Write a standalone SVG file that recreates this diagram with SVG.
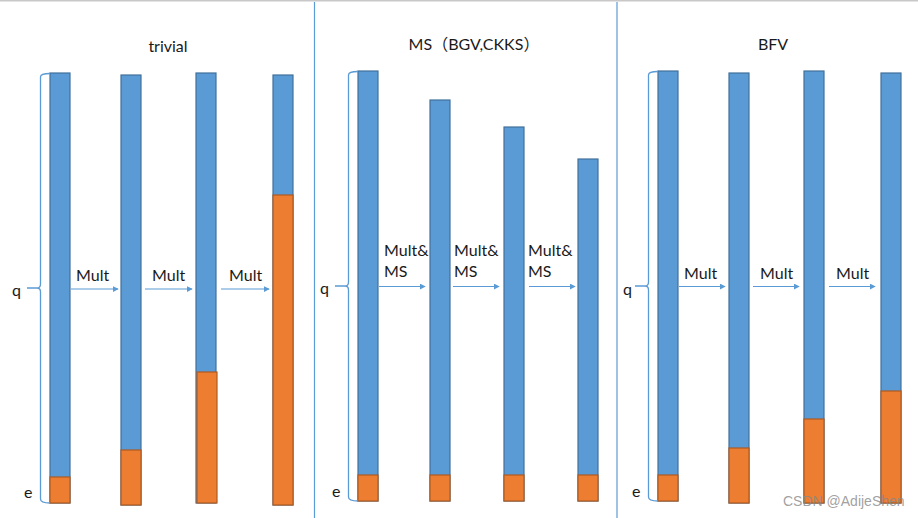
<svg xmlns="http://www.w3.org/2000/svg" width="918" height="518" viewBox="0 0 918 518">
<defs>
<style>
.b{fill:#5B9BD5;stroke:#41719C;stroke-width:1.2}
.o{fill:#ED7D31;stroke:#AE5A21;stroke-width:1.2}
.br{fill:none;stroke:#5B9BD5;stroke-width:1.3}
.ar{fill:none;stroke:#5B9BD5;stroke-width:1.2;marker-end:url(#ah)}
.dv{stroke:#5B9BD5;stroke-width:1.2}
text{font-family:Lato,"Noto Sans CJK SC",sans-serif;font-size:16px;fill:#1a1a1a}
.t{text-anchor:middle}
.wm{font-family:"Liberation Sans",sans-serif;font-size:14px;fill:#888;fill-opacity:0.8}
</style>
<marker id="ah" viewBox="0 0 8 8" refX="7" refY="4" markerWidth="6" markerHeight="6" orient="auto" markerUnits="userSpaceOnUse">
<path d="M0,0 L8,4 L0,8 z" fill="#5B9BD5"/>
</marker>
</defs>
<rect width="918" height="518" fill="#fff"/>
<line x1="0" y1="0.8" x2="918" y2="0.8" stroke="#c8c8c8" stroke-width="1.5"/>
<line class="dv" x1="314.5" y1="2" x2="314.5" y2="518"/>
<line class="dv" x1="617" y1="2" x2="617" y2="518"/>

<g id="panel-trivial">
<text class="t" x="168" y="52">trivial</text>
<g id="t-bar1"><rect class="b" x="50" y="73" width="20" height="430"/><rect class="o" x="50" y="477" width="20" height="26"/></g>
<g id="t-bar2"><rect class="b" x="121" y="75" width="20" height="430"/><rect class="o" x="121" y="450" width="20" height="55"/></g>
<g id="t-bar3"><rect class="b" x="196" y="73" width="20" height="430"/><rect class="o" x="197" y="372" width="20" height="131"/></g>
<g id="t-bar4"><rect class="b" x="273" y="75" width="20" height="430"/><rect class="o" x="273" y="195" width="20" height="310"/></g>
<g id="t-brace"><path class="br" d="M50,73.5 Q40.5,73.5 40.5,77 V284 Q40.5,288 37,288 H27 M37,288 Q40.5,288 40.5,292 V499 Q40.5,503 50,503"/>
<text x="12" y="296">q</text><text x="24" y="498">e</text></g>
</g>

<g id="panel-ms">
<text class="t" x="474" y="50">MS（BGV,CKKS）</text>
<g id="m-bar1"><rect class="b" x="358" y="71" width="20" height="430"/><rect class="o" x="358" y="475" width="20" height="26"/></g>
<g id="m-bar2"><rect class="b" x="430" y="100" width="20" height="401"/><rect class="o" x="430" y="475" width="20" height="26"/></g>
<g id="m-bar3"><rect class="b" x="504" y="127" width="20" height="374"/><rect class="o" x="504" y="475" width="20" height="26"/></g>
<g id="m-bar4"><rect class="b" x="578" y="159" width="20" height="342"/><rect class="o" x="578" y="475" width="20" height="26"/></g>
<g id="m-brace"><path class="br" d="M358,71.5 Q348.5,71.5 348.5,75 V282 Q348.5,286 345,286 H335 M345,286 Q348.5,286 348.5,290 V497 Q348.5,501 358,501"/>
<text x="320" y="294">q</text><text x="332" y="497">e</text></g>
</g>

<g id="panel-bfv">
<text class="t" x="773" y="50">BFV</text>
<g id="f-bar1"><rect class="b" x="658" y="71" width="20" height="430"/><rect class="o" x="658" y="475" width="20" height="26"/></g>
<g id="f-bar2"><rect class="b" x="729" y="73" width="20" height="430"/><rect class="o" x="729" y="448" width="20" height="55"/></g>
<g id="f-bar3"><rect class="b" x="804" y="71" width="20" height="432"/><rect class="o" x="804" y="419" width="20" height="84"/></g>
<g id="f-bar4"><rect class="b" x="881" y="73" width="20" height="430"/><rect class="o" x="881" y="391" width="20" height="112"/></g>
<g id="f-brace"><path class="br" d="M658,71.5 Q648.5,71.5 648.5,75 V282 Q648.5,286 645,286 H635 M645,286 Q648.5,286 648.5,290 V497 Q648.5,501 658,501"/>
<text x="623" y="295">q</text><text x="632" y="497">e</text></g>
</g>

<g id="connectors">
<path class="ar" d="M71,289 H118"/>
<path class="ar" d="M145,289 H192"/>
<path class="ar" d="M221,289 H269"/>
<path class="ar" d="M379,286.5 H425"/>
<path class="ar" d="M453,286.5 H499"/>
<path class="ar" d="M529,286.5 H575"/>
<path class="ar" d="M679,286.5 H725"/>
<path class="ar" d="M753,286.5 H799"/>
<path class="ar" d="M829,286.5 H875"/>
<text x="76" y="281">Mult</text>
<text x="152" y="281">Mult</text>
<text x="229" y="281">Mult</text>
<text x="384" y="256">Mult&amp;<tspan x="384" y="277">MS</tspan></text>
<text x="454" y="256">Mult&amp;<tspan x="454" y="277">MS</tspan></text>
<text x="528" y="256">Mult&amp;<tspan x="528" y="277">MS</tspan></text>
<text x="684" y="279">Mult</text>
<text x="760" y="279">Mult</text>
<text x="836" y="279">Mult</text>
</g>
<text class="wm" x="783" y="506">CSDN @AdijeShen</text>
</svg>
